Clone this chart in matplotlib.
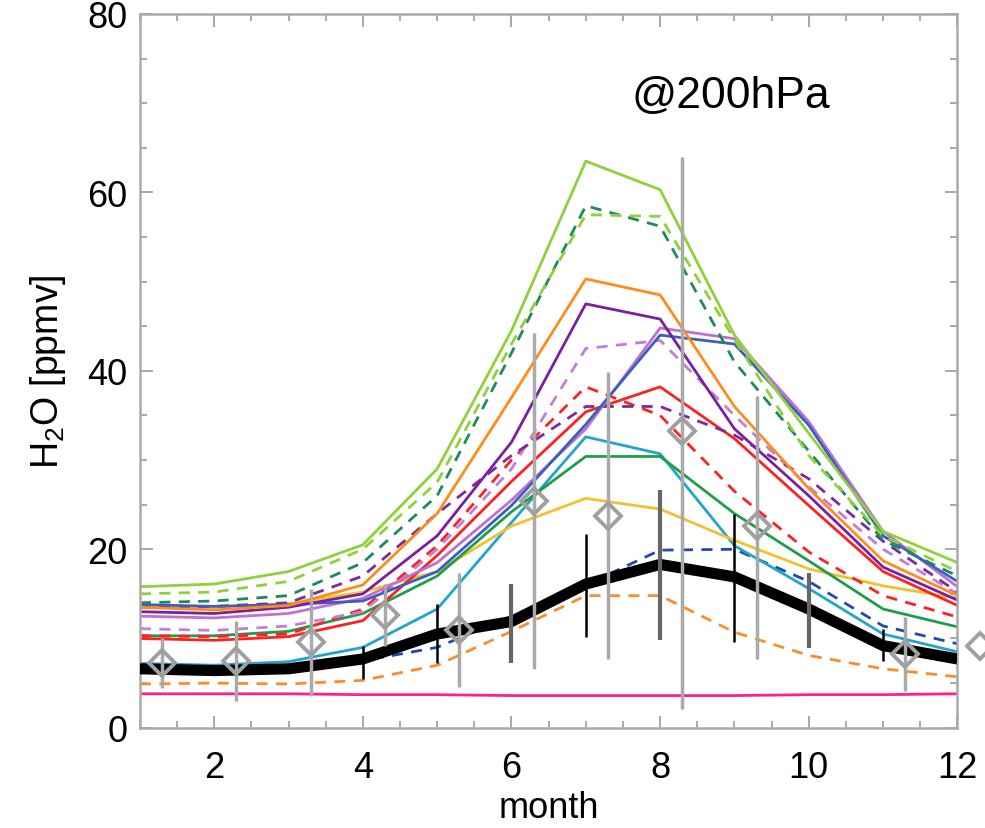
import numpy as np
import matplotlib
matplotlib.use("Agg")
import matplotlib.pyplot as plt
from matplotlib.ticker import MultipleLocator

plt.rcParams['font.family'] = ['Liberation Sans', 'DejaVu Sans']
plt.rcParams['mathtext.fontset'] = 'custom'
plt.rcParams['mathtext.rm'] = 'Liberation Sans'

# month axis
months = [1, 2, 3, 4, 5, 6, 7, 8, 9, 10, 11, 12]

# model runs (ppmv)
lg_solid   = [15.8, 16.1, 17.5, 20.5, 29.0, 44.5, 63.5, 60.3, 44.0, 33.0, 22.0, 18.5]
lg_dash    = [15.0, 15.2, 16.4, 20.0, 27.5, 43.0, 57.5, 57.3, 43.5, 30.5, 21.5, 17.5]
dg_dash    = [14.0, 14.2, 14.8, 18.5, 26.0, 42.0, 58.5, 56.2, 41.0, 31.0, 21.0, 17.0]
orange     = [13.5, 13.2, 13.7, 16.0, 24.0, 37.0, 50.3, 48.5, 36.0, 26.8, 18.7, 14.8]
purple     = [13.0, 12.8, 13.5, 15.0, 21.5, 32.0, 47.5, 45.8, 33.5, 26.0, 18.0, 14.3]
orchid     = [12.5, 12.3, 12.8, 14.5, 18.5, 25.5, 33.5, 44.8, 43.6, 34.3, 22.0, 15.8]
blue       = [13.8, 13.6, 13.8, 14.2, 17.5, 24.9, 34.0, 44.0, 43.0, 33.9, 21.5, 16.4]
purple_d   = [13.5, 13.6, 14.0, 17.0, 24.0, 30.5, 36.0, 36.0, 32.8, 27.9, 20.9, 15.2]
orchid_d   = [11.1, 10.9, 11.4, 13.0, 20.0, 29.0, 42.5, 43.4, 35.0, 27.0, 20.0, 15.0]
red        = [10.0, 9.8, 10.2, 12.0, 19.3, 27.6, 35.4, 38.2, 32.4, 24.9, 17.5, 13.7]
red_d      = [10.3, 10.2, 10.5, 13.3, 20.4, 30.0, 38.2, 35.0, 26.5, 19.7, 14.8, 12.4]
cyan       = [7.2, 7.0, 7.4, 9.0, 13.3, 23.0, 32.6, 30.7, 20.4, 15.6, 10.5, 8.5]
green      = [10.3, 10.3, 10.8, 12.8, 17.0, 24.2, 30.4, 30.4, 24.0, 18.7, 13.3, 11.3]
gold       = [13.6, 13.5, 13.9, 15.2, 17.5, 22.6, 25.7, 24.5, 21.0, 17.8, 15.9, 14.5]
blue_d     = [6.8, 6.6, 6.8, 7.5, 9.0, 12.5, 16.0, 19.9, 20.0, 16.4, 11.4, 9.4]
orange_d   = [4.9, 5.0, 4.9, 5.3, 7.0, 10.8, 14.8, 14.8, 10.7, 8.1, 6.6, 5.7]
pink       = [3.8, 3.8, 3.8, 3.7, 3.7, 3.6, 3.6, 3.6, 3.6, 3.7, 3.7, 3.8]
ref_black  = [6.6, 6.4, 6.6, 7.7, 10.5, 11.9, 16.1, 18.3, 16.9, 13.3, 9.2, 7.7]

# ranges drawn on the reference curve
rng_month = [4, 5, 6, 7, 8, 9, 10, 11]
rng_lo    = [5.5, 7.2, 7.2, 10.2, 9.8, 9.6, 8.9, 7.5]
rng_hi    = [9.2, 13.9, 16.1, 21.7, 26.6, 24.0, 17.3, 11.1]
rng_dark  = [False, False, True, False, True, False, True, False]

# observations (grey diamonds)
obs_month = [1.3, 2.3, 3.3, 4.3, 5.3, 6.3, 7.3, 8.3, 9.3, 11.3, 12.3]
obs_val   = [7.2, 7.5, 9.6, 12.6, 10.9, 25.4, 23.7, 33.2, 22.6, 8.3, 9.1]
obs_lo    = [4.4, 3.0, 3.5, 9.2, 4.6, 6.6, 7.7, 2.1, 7.7, 4.1, 9.1]
obs_hi    = [10.0, 12.0, 15.6, 16.1, 17.3, 44.2, 39.9, 64.0, 37.2, 12.4, 9.1]

fig = plt.figure(figsize=(9.85, 8.29), dpi=100)
ax = fig.add_axes([0.142, 0.121, 0.830, 0.861])

lw = 2.0
dash = (0, (4, 3))
ax.plot(months, pink, color='#ff1f8f', lw=lw)
ax.plot(months, orange_d, color='#ff8c2a', lw=lw, ls=dash)
ax.plot(months, blue_d, color='#2348b0', lw=lw, ls=dash)
ax.plot(months, cyan, color='#22a5cc', lw=lw)
ax.plot(months, gold, color='#f2c12e', lw=lw)
ax.plot(months, green, color='#1e9e4a', lw=lw)
ax.plot(months, red_d, color='#ff2020', lw=lw, ls=dash)
ax.plot(months, red, color='#ff2020', lw=lw)
ax.plot(months, orchid_d, color='#c37fd6', lw=lw, ls=dash)
ax.plot(months, purple_d, color='#7b2aa0', lw=lw, ls=dash)
ax.plot(months, orchid, color='#c070d0', lw=lw)
ax.plot(months, blue, color='#3a5fc0', lw=lw)
ax.plot(months, purple, color='#7b1fa2', lw=lw)
ax.plot(months, orange, color='#ff8c1a', lw=lw)
ax.plot(months, dg_dash, color='#1a8c5a', lw=lw, ls=dash)
ax.plot(months, lg_dash, color='#8fd13a', lw=lw, ls=dash)
ax.plot(months, lg_solid, color='#8fd13a', lw=lw)

ax.plot(months, ref_black, color='black', lw=8, zorder=3, solid_capstyle='butt')

for m, lo, hi, dark in zip(rng_month, rng_lo, rng_hi, rng_dark):
    if dark:
        ax.vlines(m, lo, hi, color='#666666', lw=3, zorder=4)
    else:
        ax.vlines(m, lo, hi, color='black', lw=1.8, zorder=4)

ax.vlines(obs_month, obs_lo, obs_hi, color='#aaaaaa', lw=2.5, zorder=5)
ax.plot(obs_month, obs_val, ls='none', marker='D', ms=13, mfc='none',
        mec='#a0a0a0', mew=2.8, zorder=6, clip_on=False)

ax.text(8.95, 70.9, '@200hPa', fontsize=32, ha='center', va='center')

ax.set_xlim(1, 12)
ax.set_ylim(0, 80)
ax.xaxis.set_major_locator(MultipleLocator(2))
ax.xaxis.set_minor_locator(MultipleLocator(0.5))
ax.yaxis.set_major_locator(MultipleLocator(20))
ax.yaxis.set_minor_locator(MultipleLocator(5))
ax.tick_params(which='both', direction='in', top=True, right=True,
               color='#999999', labelsize=26)
ax.tick_params(axis='x', pad=16)
ax.tick_params(axis='y', pad=9)
ax.tick_params(which='major', length=9, width=1.2)
ax.tick_params(which='minor', length=5, width=1.2)
for s in ax.spines.values():
    s.set_color('#aaaaaa')
    s.set_linewidth(1.8)

ax.set_xlabel('month', fontsize=26, labelpad=4)
ax.set_ylabel('H$_2$O [ppmv]', fontsize=27, labelpad=14)

fig.savefig('out.png', dpi=100)
